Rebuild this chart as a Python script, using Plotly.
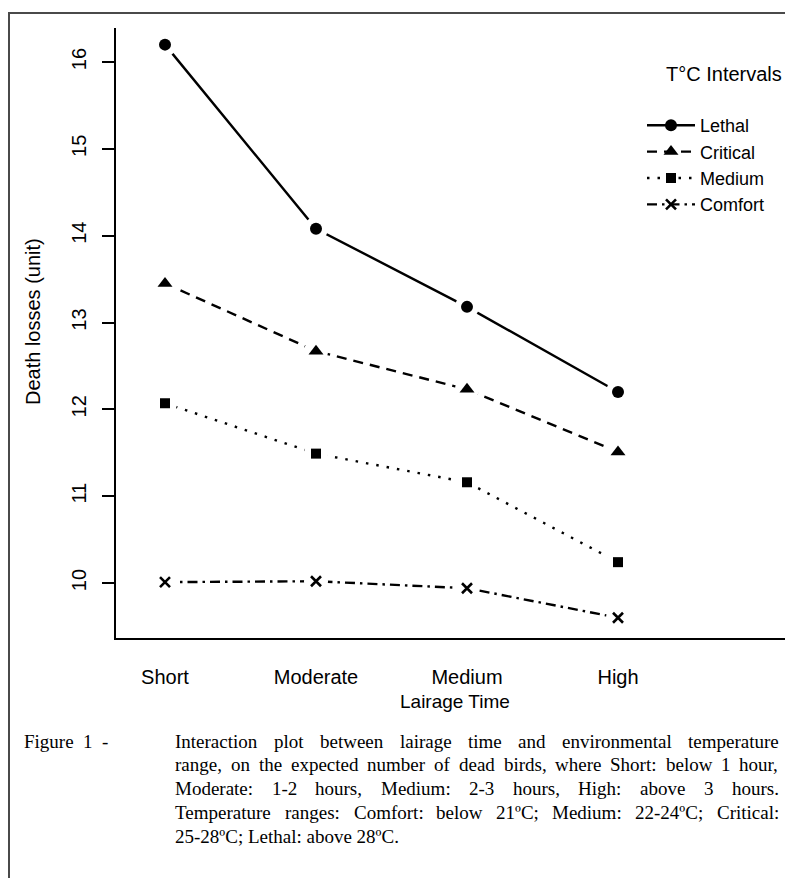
import plotly.graph_objects as go

# ---------------- data ----------------
lairage = ["Short", "Moderate", "Medium", "High"]
lethal = [16.20, 14.08, 13.18, 12.20]
critical = [13.45, 12.67, 12.23, 11.51]
medium = [12.07, 11.49, 11.16, 10.24]
comfort = [10.01, 10.02, 9.94, 9.60]
series_names = ["Lethal", "Critical", "Medium", "Comfort"]
y_ticks = [10, 11, 12, 13, 14, 15, 16]

x_title = "Lairage Time"
y_title = "Death losses (unit)"
legend_title = "T\u00b0C Intervals"
caption_lead = "Figure 1 -"
caption_lines = [
    "Interaction plot between lairage time and environmental temperature",
    "range, on the expected number of dead birds, where Short:  below 1 hour,",
    "Moderate: 1-2 hours, Medium: 2-3 hours, High: above 3 hours.",
    "Temperature ranges: Comfort: below 21\u00baC; Medium: 22-24\u00baC; Critical:",
    "25-28\u00baC; Lethal: above 28\u00baC.",
]

# ---------------- geometry ----------------
# the page body has an 8px margin: the figure is laid out in page pixels minus 8
OFF = 8
PAGE_W, PAGE_H = 793, 878
W, H = PAGE_W - OFF, PAGE_H - OFF
PLOT_L, PLOT_T, PLOT_B = 116, 28, 638          # page pixels
ML, MR, MT, MB = PLOT_L - OFF, 0, PLOT_T - OFF, H - (PLOT_B - OFF)
PW, PH = W - ML - MR, H - MT - MB


def px(x):  # page pixel -> paper
    return (x - OFF - ML) / PW


def py(y):
    return (H - MB - (y - OFF)) / PH


SANS = "Liberation Sans, Arial, Helvetica, sans-serif"
SERIF = "Liberation Serif, Times New Roman, serif"

styles = [
    dict(dash="solid", symbol="circle", size=12),
    dict(dash="10px,7px", symbol="triangle-up", size=13),
    dict(dash="2.5px,8px", symbol="square", size=10),
    dict(dash="10px,5px,2.5px,5px", symbol="x-thin", size=10),
]
values = [lethal, critical, medium, comfort]

fig = go.Figure()
for name, vals, st in zip(series_names, values, styles):
    mline = dict(width=2.6, color="black") if st["symbol"] == "x-thin" else dict(width=0)
    fig.add_trace(go.Scatter(
        x=lairage, y=vals, name=name, mode="lines+markers",
        line=dict(color="black", width=2.4, dash=st["dash"]),
        marker=dict(symbol=st["symbol"], size=st["size"], color="black", line=mline),
        hoverinfo="skip",
    ))
    # white halo to reproduce the gap of R's type="b"
    fig.add_trace(go.Scatter(
        x=lairage, y=vals, mode="markers", showlegend=False, hoverinfo="skip",
        marker=dict(symbol="circle", size=24, color="white", line=dict(width=0)),
    ))
    fig.add_trace(go.Scatter(
        x=lairage, y=vals, mode="markers", showlegend=False, hoverinfo="skip",
        marker=dict(symbol=st["symbol"], size=st["size"], color="black", line=mline),
    ))

# ---------------- caption (justified words) ----------------
TW = {' ': 250, '!': 333, '(': 333, ')': 333, ',': 250, '-': 333, '.': 250, ':': 278, ';': 278,
      '\u00ba': 310, '\u00b0': 400,
      'A': 722, 'B': 667, 'C': 667, 'D': 722, 'E': 611, 'F': 556, 'G': 722, 'H': 722, 'I': 333,
      'J': 389, 'K': 722, 'L': 611, 'M': 889, 'N': 722, 'O': 722, 'P': 556, 'Q': 722, 'R': 667,
      'S': 556, 'T': 611, 'U': 722, 'V': 722, 'W': 944, 'X': 722, 'Y': 722, 'Z': 611,
      'a': 444, 'b': 500, 'c': 444, 'd': 500, 'e': 444, 'f': 333, 'g': 500, 'h': 500, 'i': 278,
      'j': 278, 'k': 500, 'l': 278, 'm': 778, 'n': 500, 'o': 500, 'p': 500, 'q': 500, 'r': 333,
      's': 389, 't': 278, 'u': 500, 'v': 500, 'w': 722, 'x': 500, 'y': 500, 'z': 444}
CAP_FS = 19


def tw(s):
    return sum(TW.get(c, 500) for c in s) / 1000.0 * CAP_FS


annotations = []


def word(x, y, text):
    annotations.append(dict(x=px(x), y=py(y), xref="paper", yref="paper", text=text,
                            showarrow=False, xanchor="left", yanchor="middle",
                            font=dict(family=SERIF, size=CAP_FS, color="black")))


cap_lead_x, cap_x0, cap_x1 = 22, 173, 777
cap_y0, cap_dy = 741, 23.8
for i, line in enumerate(caption_lines):
    yy = cap_y0 + i * cap_dy
    words = line.split()
    if i == len(caption_lines) - 1:
        word(cap_x0, yy, line)
        continue
    widths = [tw(w) for w in words]
    gap = (cap_x1 - cap_x0 - sum(widths)) / (len(words) - 1)
    x = cap_x0
    for w, wd in zip(words, widths):
        word(x, yy, w)
        x += wd + gap

# lead "Figure 1 -" (hanging indent)
word(cap_lead_x, cap_y0, caption_lead.replace(" ", "\u00a0\u00a0"))

# axis titles & legend title
annotations.append(dict(x=px(455), y=py(701), xref="paper", yref="paper", text=x_title,
                        showarrow=False, xanchor="center", yanchor="middle",
                        font=dict(family=SANS, size=19, color="black")))
annotations.append(dict(x=px(33), y=py(322), xref="paper", yref="paper", text=y_title,
                        showarrow=False, xanchor="center", yanchor="middle", textangle=-90,
                        font=dict(family=SANS, size=20, color="black")))
annotations.append(dict(x=px(784), y=py(74), xref="paper", yref="paper", text=legend_title,
                        showarrow=False, xanchor="right", yanchor="middle",
                        font=dict(family=SANS, size=20, color="black")))

# frame of the figure
shapes = [
    dict(type="line", xref="paper", yref="paper", x0=px(9), x1=px(9), y0=py(13), y1=py(PAGE_H + 5),
         line=dict(color="#4a4a4a", width=2)),
    dict(type="line", xref="paper", yref="paper", x0=px(8), x1=px(PAGE_W + 5), y0=py(13), y1=py(13),
         line=dict(color="#4a4a4a", width=2)),
]

fig.update_layout(
    width=W, height=H, autosize=False,
    margin=dict(l=ML, r=MR, t=MT, b=MB, pad=0, autoexpand=False),
    paper_bgcolor="white", plot_bgcolor="white",
    font=dict(family=SANS, size=20, color="black"),
    showlegend=True,
    legend=dict(xref="paper", yref="paper", x=px(642), y=py(107),
                xanchor="left", yanchor="top", bgcolor="rgba(0,0,0,0)",
                font=dict(family=SANS, size=18, color="black"), tracegroupgap=0,
                itemwidth=48),
    annotations=annotations,
    shapes=shapes,
)

fig.update_xaxes(
    type="category", categoryorder="array", categoryarray=lairage,
    range=[(PLOT_L - 165) / 151.0, (PAGE_W - 165) / 151.0],
    showline=True, linecolor="black", linewidth=2, mirror=False,
    ticks="", showgrid=False, zeroline=False,
    tickfont=dict(family=SANS, size=20, color="black"),
    ticklabelstandoff=20,
)
fig.update_yaxes(
    range=[10 - (PLOT_B - 583) / 86.83, 16 + (62 - PLOT_T) / 86.83],
    tickvals=y_ticks, ticktext=[str(v) for v in y_ticks],
    showline=True, linecolor="black", linewidth=2,
    ticks="outside", ticklen=12, tickwidth=1.6, tickcolor="black",
    tickangle=-90, showgrid=False, zeroline=False,
    tickfont=dict(family=SANS, size=20, color="black"),
    ticklabelstandoff=8,
)

fig.write_html("out.html")
